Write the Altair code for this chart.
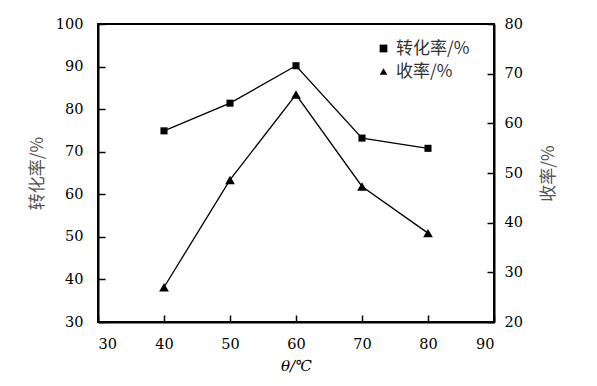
import altair as alt
import pandas as pd

temps = [40, 50, 60, 70, 80]
conversion = [74.9, 81.4, 90.2, 73.2, 70.8]
yield_pct = [27.0, 48.6, 65.8, 47.3, 37.9]
series_names = ["转化率/%", "收率/%"]
x_ticks = [30, 40, 50, 60, 70, 80, 90]
left_ticks = [30, 40, 50, 60, 70, 80, 90, 100]
right_ticks = [20, 30, 40, 50, 60, 70, 80]

df_conv = pd.DataFrame({"temp": temps, "val": conversion, "series": series_names[0]})
df_yield = pd.DataFrame({"temp": temps, "val": yield_pct, "series": series_names[1]})

inward = alt.ExprRef(expr="-7")
serif = "DejaVu Serif"

x_enc = alt.X(
    "temp:Q",
    scale=alt.Scale(domain=[30, 90], nice=False, zero=False),
    axis=alt.Axis(values=x_ticks, title="θ/℃", tickSize=inward, labelPadding=22,
                  titlePadding=8, titleFont=serif, titleFontStyle="italic",
                  titleColor="black", titleFontSize=15),
)

shape_scale = alt.Scale(domain=series_names, range=["square", "triangle-up"])

y_left = alt.Y(
    "val:Q",
    scale=alt.Scale(domain=[30, 100], nice=False, zero=False),
    axis=alt.Axis(orient="left", values=left_ticks, title="转化率/%", tickSize=inward,
                  labelPadding=22, titlePadding=9),
)
y_right = alt.Y(
    "val:Q",
    scale=alt.Scale(domain=[20, 80], nice=False, zero=False),
    axis=alt.Axis(orient="right", values=right_ticks, title="收率/%", tickSize=inward,
                  labelPadding=17, titlePadding=18, titleAngle=270, titleBaseline="top"),
)

legend = alt.Legend(title=None, orient="none", legendX=277, legendY=16)

conv_line = alt.Chart(df_conv).mark_line(color="black", strokeWidth=1.3).encode(x=x_enc, y=y_left)
conv_pts = alt.Chart(df_conv).mark_point(filled=True, opacity=1, color="black", size=50).encode(
    x=x_enc, y=y_left, shape=alt.Shape("series:N", scale=shape_scale, legend=legend)
)
yld_line = alt.Chart(df_yield).mark_line(color="black", strokeWidth=1.3).encode(x=x_enc, y=y_right)
yld_pts = alt.Chart(df_yield).mark_point(filled=True, opacity=1, color="black", size=95).encode(
    x=x_enc, y=y_right, shape=alt.Shape("series:N", scale=shape_scale, legend=legend)
)

left = alt.layer(conv_line, conv_pts)
right = alt.layer(yld_line, yld_pts)

chart = (
    alt.layer(left, right)
    .resolve_scale(y="independent")
    .properties(
        width=396,
        height=298,
        autosize=alt.AutoSizeParams(type="none"),
        padding={"left": 90, "top": 16, "right": 95, "bottom": 56},
        background="white",
    )
    .configure_view(stroke="black", strokeWidth=2)
    .configure_axis(
        domainColor="black",
        domainWidth=2,
        tickColor="black",
        tickWidth=1.5,
        grid=False,
        labelFont=serif,
        labelFontSize=14.5,
        labelColor="black",
        titleFont="Noto Sans CJK SC",
        titleFontSize=17,
        titleFontWeight="normal",
        titleColor="#555555",
    )
    .configure_legend(
        labelFont="Noto Sans CJK SC",
        labelFontSize=17,
        labelColor="#333333",
        symbolFillColor="black",
        symbolStrokeColor="black",
        symbolSize=60,
        rowPadding=5,
        padding=0,
        labelOffset=4,
    )
)

chart.save("out.html", embed_options={"renderer": "svg", "actions": False})
